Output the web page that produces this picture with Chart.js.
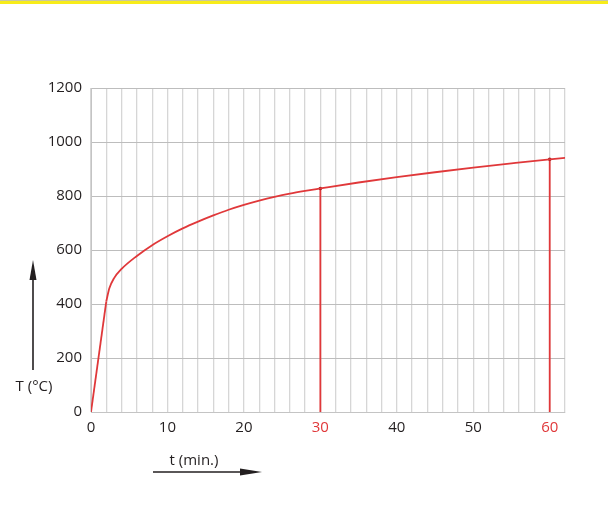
<!DOCTYPE html>
<html>
<head>
<meta charset="utf-8">
<script src="https://cdn.jsdelivr.net/npm/chart.js@4/dist/chart.umd.min.js"></script>
<style>
  html, body { margin: 0; padding: 0; background: #fff; }
  #wrap { position: relative; width: 608px; height: 522px; }
  #topbar { position: absolute; left: 0; top: 0; width: 608px; height: 4px;
            background: linear-gradient(#c8c8a0 0px, #c8c8a0 1px, #f7ec1a 1px, #f7ec1a 4px); }
  canvas { position: absolute; left: 0; top: 0; }
</style>
</head>
<body>
<div id="wrap">
  <canvas id="c" width="608" height="522"></canvas>
  <div id="topbar"></div>
</div>
<script>
// Initial straight rise (min, °C)
const rampTimes = [0, 2];
const rampTemps = [0, 410];
// Curve after the knee (min, °C)
const times = [2, 2.4, 3, 4, 6, 8, 10, 12, 14, 16, 18, 20, 22, 24, 26, 28, 30, 35, 40, 45, 50, 55, 60, 62];
const temps = [410, 458, 495, 530, 578, 618, 651, 680, 705, 728, 749, 767, 783, 797, 809, 819, 828, 850, 870, 888, 905, 921, 936, 941];
// Highlighted times
const markerTimes = [30, 60];
// Axis ticks
const xTickLabels = [0, 10, 20, 30, 40, 50, 60];
const yTickLabels = [0, 200, 400, 600, 800, 1000, 1200];
const xLabel = 't (min.)';
const yLabel = 'T (°C)';

const RED = '#e0383a';
const DARK = '#231f20';

const ramp = rampTimes.map((t, i) => ({ x: t, y: rampTemps[i] }));
const curve = times.map((t, i) => ({ x: t, y: temps[i] }));
const markerTemps = markerTimes.map(t => temps[times.indexOf(t)]);

const datasets = [{
  data: ramp,
  borderColor: RED,
  borderWidth: 1.8,
  pointRadius: 0,
  tension: 0,
  fill: false
}, {
  data: curve,
  borderColor: RED,
  borderWidth: 1.8,
  pointRadius: 0,
  cubicInterpolationMode: 'monotone',
  fill: false
}];
markerTimes.forEach((t, i) => {
  datasets.push({
    data: [{ x: t, y: 0 }, { x: t, y: markerTemps[i] }],
    borderColor: RED,
    borderWidth: 1.8,
    pointRadius: [0, 1.8],
    pointBackgroundColor: '#a01818',
    pointBorderWidth: 0,
    fill: false
  });
});

const arrows = {
  id: 'arrows',
  afterDraw(chart) {
    const ctx = chart.ctx;
    ctx.save();
    ctx.fillStyle = DARK;
    ctx.strokeStyle = DARK;
    ctx.font = '15px "Open Sans"';
    ctx.textBaseline = 'middle';
    ctx.textAlign = 'center';
    ctx.fillText(yLabel, 34, 387);
    ctx.lineWidth = 1.6;
    ctx.beginPath(); ctx.moveTo(33, 370); ctx.lineTo(33, 278); ctx.stroke();
    ctx.beginPath(); ctx.moveTo(33, 260); ctx.lineTo(29.5, 280); ctx.lineTo(36.5, 280); ctx.closePath(); ctx.fill();
    ctx.fillText(xLabel, 194, 461);
    ctx.beginPath(); ctx.moveTo(153, 472); ctx.lineTo(244, 472); ctx.stroke();
    ctx.beginPath(); ctx.moveTo(262, 472); ctx.lineTo(240, 468.5); ctx.lineTo(240, 475.5); ctx.closePath(); ctx.fill();
    ctx.restore();
  }
};

new Chart(document.getElementById('c'), {
  type: 'line',
  data: { datasets },
  options: {
    responsive: false,
    animation: false,
    layout: { padding: { left: 0, right: 43, top: 88, bottom: 0 } },
    plugins: { legend: { display: false }, tooltip: { enabled: false } },
    scales: {
      x: {
        type: 'linear',
        min: 0, max: 62,
        afterFit(s) { s.height = 110; },
        afterBuildTicks(s) {
          const t = [];
          for (let v = 0; v <= 62; v += 2) t.push({ value: v });
          s.ticks = t;
        },
        ticks: {
          autoSkip: false,
          maxRotation: 0,
          padding: 7,
          font: { family: 'Open Sans', size: 15 },
          color: c => markerTimes.includes(c.tick.value) ? RED : DARK,
          callback: v => xTickLabels.includes(v) ? String(v) : ''
        },
        grid: { color: '#d6d6d6', lineWidth: 1.3, drawTicks: false },
        border: { color: '#c4c4c4', width: 1 }
      },
      y: {
        min: 0, max: 1200,
        afterFit(s) { s.width = 91; },
        afterBuildTicks(s) { s.ticks = yTickLabels.map(v => ({ value: v })); },
        ticks: {
          padding: 9,
          font: { family: 'Open Sans', size: 15 },
          color: DARK,
          callback: v => String(v)
        },
        grid: { color: '#bdbdbd', lineWidth: 1, drawTicks: false },
        border: { color: '#c4c4c4', width: 1 }
      }
    }
  },
  plugins: [arrows]
});
</script>
</body>
</html>
